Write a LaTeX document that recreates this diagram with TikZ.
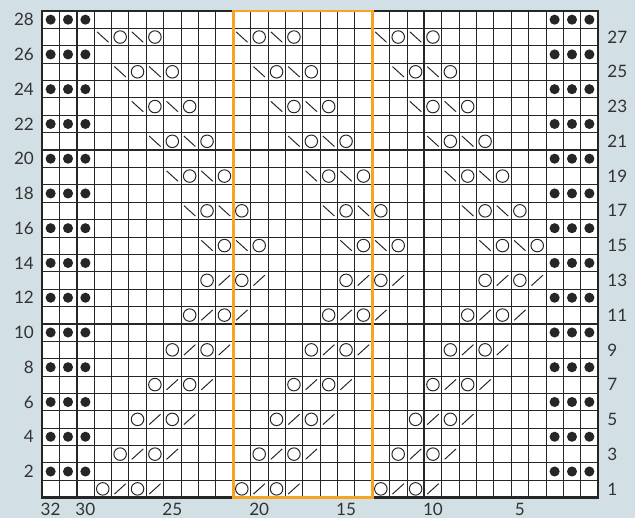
\documentclass[tikz,border=0pt]{standalone}
\usepackage{fontspec}
\setmainfont{Lato}
\usepackage{xcolor}
\usetikzlibrary{positioning}
\definecolor{chartbg}{RGB}{210,224,230}
\definecolor{gridline}{RGB}{38,38,38}
\definecolor{accent}{RGB}{245,165,35}
\definecolor{numtext}{RGB}{50,50,50}
\tikzset{
  rownum/.style={numtext, font=\fontsize{14}{16}\selectfont, inner sep=0pt},
  stitch/.style={gridline, line width=0.8pt},
}

\begin{document}
\begin{tikzpicture}[x=0.5cm, y=0.5cm]
  \fill[chartbg] (-2.414,-1.149) rectangle (34.126,28.632);
  \useasboundingbox (-2.414,-1.149) rectangle (34.126,28.632);
  \fill[white] (0,0) rectangle (32,28);
  \foreach \c in {1,...,31} \draw[gridline, line width=0.6pt] (\c,0) -- (\c,28);
  \foreach \r in {1,...,27} \draw[gridline, line width=0.6pt] (0,\r) -- (32,\r);
  % every tenth line heavier
  \foreach \c in {2,12,22} \draw[gridline, line width=1.4pt] (\c,0) -- (\c,28);
  \foreach \r in {10,20} \draw[gridline, line width=1.4pt] (0,\r) -- (32,\r);
  \draw[gridline, line width=2pt] (0,0) rectangle (32,28);
  % purl edges
  \foreach \r in {2,4,...,28}
    \foreach \x in {0.5,1.5,2.5,29.5,30.5,31.5}
      \fill[gridline] (\x,\r-0.5) circle (0.29);
  % lower half: yo, k2tog
  \foreach \k in {1,...,7} {
    \pgfmathsetmacro{\y}{2*\k-1.5}
    \foreach \o in {0,8,16} {
      \pgfmathsetmacro{\x}{2.5+\k+\o}
      \draw[stitch] (\x,\y) circle (0.36);
      \draw[stitch] (\x+0.67,\y-0.3) -- (\x+1.33,\y+0.3);
      \draw[stitch] (\x+2,\y) circle (0.36);
      \draw[stitch] (\x+2.67,\y-0.3) -- (\x+3.33,\y+0.3);
    }
  }
  % upper half: ssk, yo
  \foreach \k in {8,...,14} {
    \pgfmathsetmacro{\y}{2*\k-1.5}
    \foreach \o in {0,8,16} {
      \pgfmathsetmacro{\x}{17.5-\k+\o}
      \draw[stitch] (\x-0.33,\y+0.3) -- (\x+0.33,\y-0.3);
      \draw[stitch] (\x+1,\y) circle (0.36);
      \draw[stitch] (\x+1.67,\y+0.3) -- (\x+2.33,\y-0.3);
      \draw[stitch] (\x+3,\y) circle (0.36);
    }
  }
  % repeat
  \draw[accent, line width=2.4pt] (11,0) rectangle (19,28);
  % row and stitch numbers
  \foreach \r in {2,4,...,28}
    \node[rownum, anchor=east] (lft\r) at (-0.45,\r-0.5) {\r};
  \foreach \r in {1,3,...,27}
    \node[rownum, anchor=west] (rgt\r) at (32.52,\r-0.5) {\r};
  \foreach \c in {32,30,25,20,15,10,5}
    \node[rownum] (bot\c) at (32.5-\c,-0.66) {\c};
\end{tikzpicture}
\end{document}
